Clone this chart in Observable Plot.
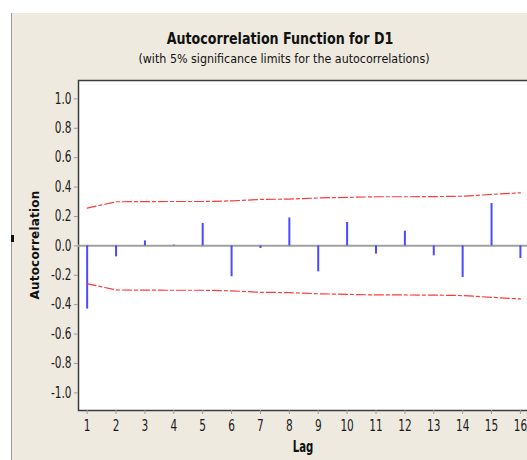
<!DOCTYPE html>
<html>
<head>
<meta charset="utf-8">
<script src="https://cdn.jsdelivr.net/npm/d3@7"></script>
<script src="https://cdn.jsdelivr.net/npm/@observablehq/plot@0.6"></script>
<style>
  html, body { margin: 0; padding: 0; background: #fff; }
  body { width: 527px; height: 460px; overflow: hidden; position: relative; }
  #panel { position: absolute; left: 11px; top: 13px; width: 516px; height: 447px;
           background: #EEEAE0; border-left: 1px solid #9c9c9c; }
  .t { position: absolute; white-space: nowrap; color: #111; font-family: "DejaVu Sans Condensed", "DejaVu Sans", sans-serif; }
  #title { left: 0; width: 560px; text-align: center; top: 31px; font-size: 16px; line-height: 16px; font-weight: bold; transform: scaleX(0.88); transform-origin: 280px 0; }
  #subtitle { left: 0; width: 568px; text-align: center; top: 52px; font-size: 13px; line-height: 13px; transform: scaleX(0.95); transform-origin: 284px 0; }
  #ylab { font-family: "DejaVu Sans", sans-serif; font-weight: bold; font-size: 12px; letter-spacing: 0.2px;
          line-height: 12px; left: 35px; top: 245px; transform: translate(-50%, -50%) rotate(-90deg); }
  #xlab { left: 0; width: 606px; text-align: center; top: 440px; font-size: 15px; line-height: 15px; font-weight: bold; transform: scaleX(0.75); transform-origin: 303px 0; }
  #mark { position: absolute; left: 11px; top: 235px; width: 3px; height: 7px; background: #111; }
  #chart { position: absolute; left: 12px; top: 68px; width: 525px; height: 392px; }
</style>
</head>
<body>
<div id="panel"></div>
<div id="mark"></div>
<div class="t" id="title">Autocorrelation Function for D1</div>
<div class="t" id="subtitle">(with 5% significance limits for the autocorrelations)</div>
<div class="t" id="ylab">Autocorrelation</div>
<div class="t" id="xlab">Lag</div>
<div id="chart"></div>
<script>
const lags = [1, 2, 3, 4, 5, 6, 7, 8, 9, 10, 11, 12, 13, 14, 15, 16];
const acf = [-0.43, -0.075, 0.034, 0.005, 0.152, -0.21, -0.018, 0.19, -0.177, 0.159, -0.056, 0.10, -0.068, -0.215, 0.288, -0.086];
const upperLimit = [0.257, 0.300, 0.301, 0.302, 0.302, 0.306, 0.316, 0.318, 0.326, 0.330, 0.334, 0.334, 0.335, 0.338, 0.350, 0.361];
const yTicks = [-1.0, -0.8, -0.6, -0.4, -0.2, 0.0, 0.2, 0.4, 0.6, 0.8, 1.0];

const bars = lags.map((lag, i) => ({lag, r: acf[i]}));
const upper = lags.map((lag, i) => ({lag, v: upperLimit[i]}));
const lower = lags.map((lag, i) => ({lag, v: -upperLimit[i]}));

const chart = Plot.plot({
  width: 525,
  height: 392,
  marginLeft: 66,
  marginTop: 12,
  marginBottom: 50,
  marginRight: 9,
  style: { fontFamily: "'DejaVu Sans Condensed', 'DejaVu Sans', sans-serif", fontSize: "15px", color: "#1a1a1a",
           background: "transparent", overflow: "visible", maxWidth: "none", width: "525px", height: "392px" },
  x: { domain: [0.7, 16.28] },
  y: { domain: [-1.12, 1.125] },
  marks: [
    Plot.frame({ fill: "white", stroke: "#3c3c3c", strokeWidth: 1.5 }),
    Plot.ruleY([0], { stroke: "#a0a0a0", strokeWidth: 2 }),
    Plot.ruleX(bars, { x: "lag", y1: 0, y2: "r", stroke: "#4a4aff", strokeWidth: 2 }),
    Plot.line(upper, { x: "lag", y: "v", stroke: "#ff3838", strokeWidth: 1.2, strokeDasharray: "9,3,3,3" }),
    Plot.line(lower, { x: "lag", y: "v", stroke: "#ff3838", strokeWidth: 1.2, strokeDasharray: "9,3,3,3" }),
    Plot.axisX({ ticks: lags, tickFormat: d => String(d), tickSize: 4, tickPadding: 6, stroke: "#999", label: null }),
    Plot.axisY({ ticks: yTicks, tickFormat: d => d.toFixed(1), tickSize: 4, tickPadding: 3, stroke: "#999", label: null })
  ]
});
document.getElementById("chart").appendChild(chart);
// narrow the tick labels (the original uses a condensed face)
chart.querySelectorAll("g[aria-label$='tick label'] text").forEach(t => {
  const len = t.getComputedTextLength();
  t.setAttribute("textLength", (len * 0.78).toFixed(2));
  t.setAttribute("lengthAdjust", "spacingAndGlyphs");
});
</script>
</body>
</html>
